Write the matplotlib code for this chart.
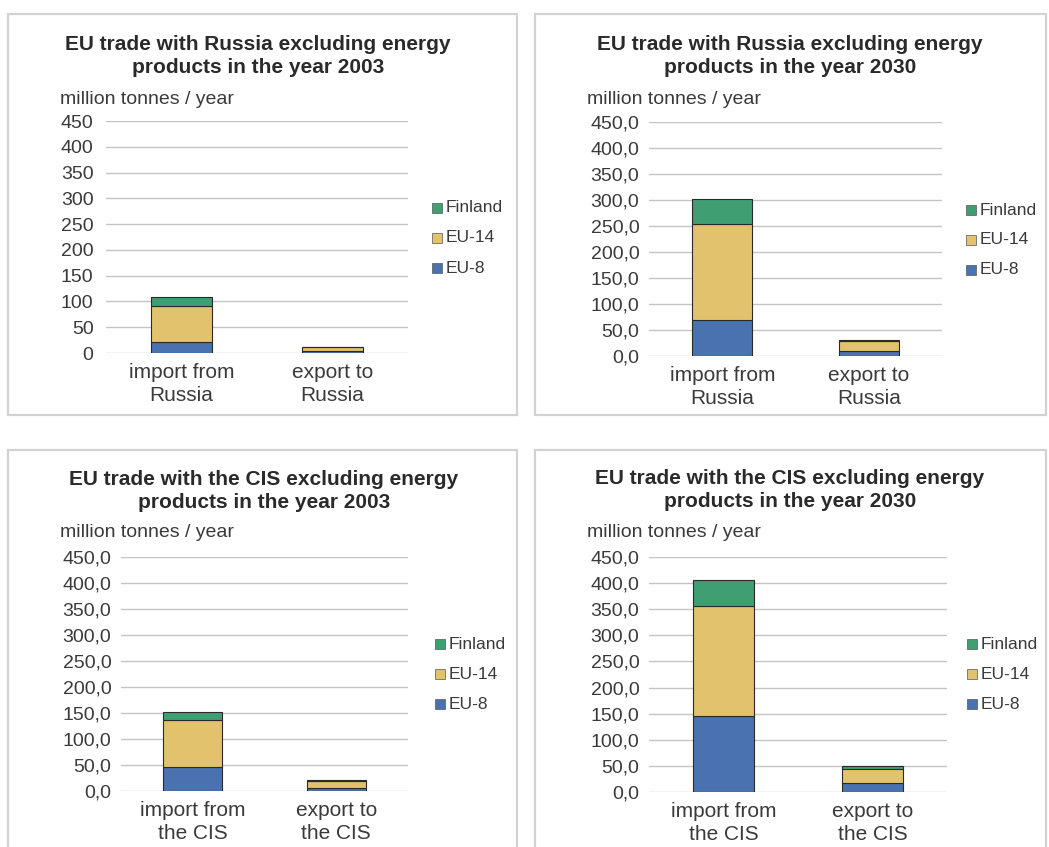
import matplotlib.pyplot as plt
from matplotlib.patches import Rectangle
from matplotlib.ticker import FuncFormatter
import numpy as np

plt.rcParams['font.family'] = ['Liberation Sans', 'DejaVu Sans']

# data, million tonnes / year
series = ["EU-8", "EU-14", "Finland"]
colors = {"EU-8": "#4a72b0", "EU-14": "#e2c26c", "Finland": "#3f9f73"}

titles = [
    "EU trade with Russia excluding energy\nproducts in the year 2003",
    "EU trade with Russia excluding energy\nproducts in the year 2030",
    "EU trade with the CIS excluding energy\nproducts in the year 2003",
    "EU trade with the CIS excluding energy\nproducts in the year 2030",
]
cats_russia = ["import from\nRussia", "export to\nRussia"]
cats_cis = ["import from\nthe CIS", "export to\nthe CIS"]

eu8_vals = [[21, 3], [70, 10], [46, 6], [145, 18]]
eu14_vals = [[71, 8], [184, 19], [90, 13], [211, 27]]
fin_vals = [[17, 1], [48, 2], [16, 3], [50, 4]]

W, H = 1049, 847
fig = plt.figure(figsize=(W / 100, H / 100), dpi=100)


def fx(x):
    return x / W


def fy(y):
    return 1 - y / H


# panel layout in pixels: frame box, axes box, title centre, ylabel pos, legend pos
panels = [
    dict(frame=(8, 14, 517, 415), ax=(106, 121, 408, 353), tx=258, ty=(44, 68),
         lab=(60, 100), leg=(432, 208), cats=cats_russia, dec=False, pad=9),
    dict(frame=(535, 14, 1046, 415), ax=(649, 122, 942, 356), tx=790, ty=(44, 68),
         lab=(587, 100), leg=(966, 210), cats=cats_russia, dec=True, pad=7),
    dict(frame=(8, 450, 517, 860), ax=(121, 557, 408, 791), tx=264, ty=(479, 503),
         lab=(60, 532), leg=(435, 644), cats=cats_cis, dec=True, pad=7),
    dict(frame=(535, 450, 1046, 860), ax=(649, 557, 947, 792), tx=790, ty=(478, 502),
         lab=(587, 532), leg=(967, 644), cats=cats_cis, dec=True, pad=7),
]

for i, p in enumerate(panels):
    x0, y0, x1, y1 = p["frame"]
    fig.patches.append(Rectangle((fx(x0), fy(y1)), fx(x1 - x0), (y1 - y0) / H,
                                 transform=fig.transFigure, fill=False,
                                 edgecolor="#d2d2d2", linewidth=1.6))

    l, t, r, b = p["ax"]
    ax = fig.add_axes([fx(l), fy(b), fx(r - l), (b - t) / H])
    x = np.arange(2)
    bottom = np.zeros(2)
    for name, vals in zip(series, [eu8_vals[i], eu14_vals[i], fin_vals[i]]):
        ax.bar(x, vals, 0.41, bottom=bottom, color=colors[name],
               edgecolor="#2a2a2a", linewidth=0.8, zorder=3)
        bottom += np.array(vals)

    ax.set_xlim(-0.5, 1.5)
    ax.set_ylim(0, 450)
    ax.set_yticks(np.arange(0, 451, 50))
    if p["dec"]:
        ax.yaxis.set_major_formatter(FuncFormatter(lambda v, pos: f"{v:.1f}".replace(".", ",")))
    ax.grid(axis="y", color="#c4c4c4", linewidth=1.0, zorder=0)
    for s in ax.spines.values():
        s.set_visible(False)
    ax.tick_params(axis="both", length=0, colors="#3a3a3a")
    ax.tick_params(axis="y", pad=p["pad"], labelsize=14)
    ax.tick_params(axis="x", pad=7)
    ax.set_xticks(x)
    ax.set_xticklabels(p["cats"], fontsize=15, linespacing=1.3)
    ax.set_facecolor("none")

    fig.text(fx(p["tx"]), fy(sum(p["ty"]) / 2), titles[i], ha="center", va="center",
             fontsize=15, fontweight="bold", color="#2a2a2a", linespacing=1.3)
    fig.text(fx(p["lab"][0]), fy(p["lab"][1]), "million tonnes / year", ha="left",
             va="center", fontsize=14, color="#3a3a3a")

    lx, ly = p["leg"]
    for k, name in enumerate(["Finland", "EU-14", "EU-8"]):
        yy = ly + k * 30
        fig.patches.append(Rectangle((fx(lx), fy(yy + 5)), fx(10), 10 / H,
                                     transform=fig.transFigure, facecolor=colors[name],
                                     edgecolor="#555555", linewidth=0.5))
        fig.text(fx(lx + 14), fy(yy), name, ha="left", va="center",
                 fontsize=12.5, color="#3a3a3a")

fig.savefig("out.png", dpi=100)
